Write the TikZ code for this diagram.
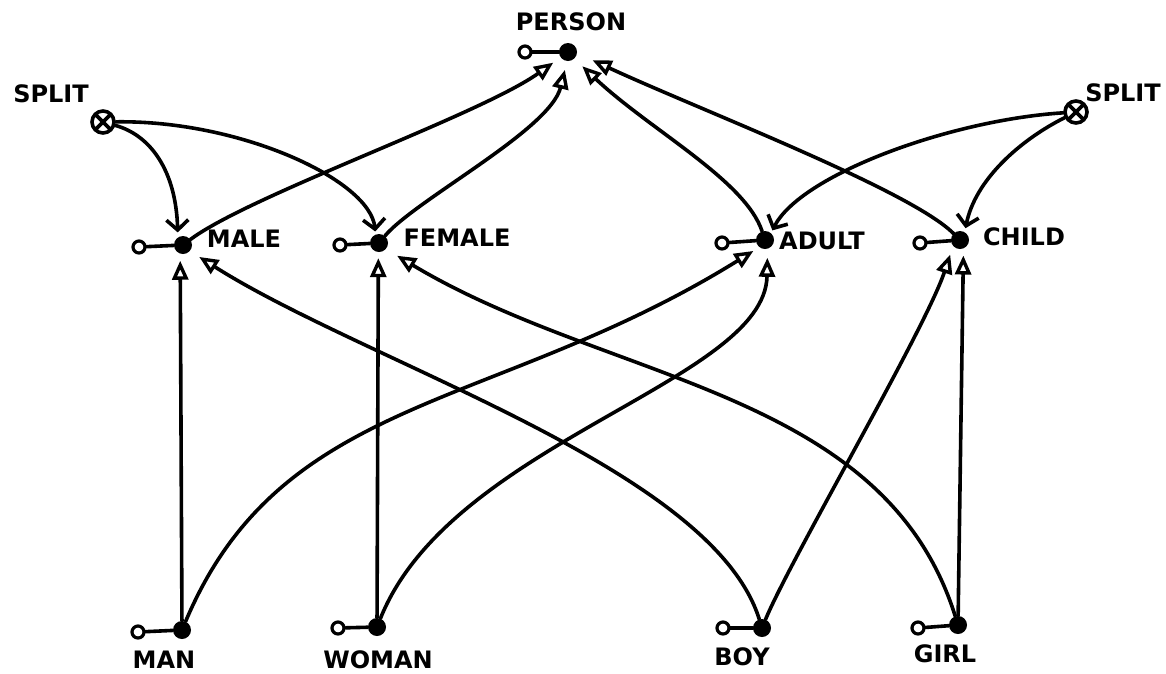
\documentclass[tikz,border=0pt]{standalone}
\usepackage{fontspec}
\setmainfont{DejaVu Sans}
\usetikzlibrary{arrows.meta}
\begin{document}
\begin{tikzpicture}[x=1pt,y=-1pt,
  dotn/.style={circle,fill=black,inner sep=0pt,minimum size=18pt},
  hole/.style={circle,draw=black,line width=3.2pt,fill=white,inner sep=0pt,minimum size=12pt},
  splitn/.style={circle,draw=black,line width=3.6pt,inner sep=0pt,minimum size=22pt,
    path picture={\draw[line width=3.6pt] (path picture bounding box.north west)--(path picture bounding box.south east)
      (path picture bounding box.north east)--(path picture bounding box.south west);}},
  lbl/.style={font=\bfseries\fontsize{24}{24}\selectfont, inner sep=0pt},
  ln/.style={line width=3.6pt, line cap=round},
  isa/.style={ln, -{Triangle[open,length=19pt,width=16pt,line width=3.4pt]}},
  spl/.style={ln, -{Straight Barb[length=10pt,width=22pt,line width=3.6pt]}},
]
\useasboundingbox (0,0) rectangle (1166,673);

% nodes
\node[dotn] (person) at (568,52) {};
\node[hole] (personh) at (525,52) {};
\node[lbl] (personl) at (571,22) {PERSON};

\node[splitn] (splitl) at (103,122) {};
\node[lbl] (splitll) at (51,94) {SPLIT};
\node[splitn] (splitr) at (1076,112) {};
\node[lbl] (splitrl) at (1123,93) {SPLIT};

\node[dotn] (male) at (183,245) {};
\node[hole] (maleh) at (139,247) {};
\node[lbl] (malel) at (244,239) {MALE};

\node[dotn] (female) at (379,243) {};
\node[hole] (femaleh) at (340,245) {};
\node[lbl] (femalel) at (457,238) {FEMALE};

\node[dotn] (adult) at (765,240) {};
\node[hole] (adulth) at (722,243) {};
\node[lbl] (adultl) at (822,241) {ADULT};

\node[dotn] (child) at (960,240) {};
\node[hole] (childh) at (920,243) {};
\node[lbl] (childl) at (1024,237) {CHILD};

\node[dotn] (man) at (182,630) {};
\node[hole] (manh) at (138,632) {};
\node[lbl] (manl) at (164,660) {MAN};

\node[dotn] (woman) at (377,627) {};
\node[hole] (womanh) at (338,628) {};
\node[lbl] (womanl) at (378,660) {WOMAN};

\node[dotn] (boy) at (762,628) {};
\node[hole] (boyh) at (723,628) {};
\node[lbl] (boyl) at (742,657) {BOY};

\node[dotn] (girl) at (958,625) {};
\node[hole] (girlh) at (918,628) {};
\node[lbl] (girll) at (945,654) {GIRL};

% stems
\foreach \a in {person,male,female,adult,child,man,woman,boy,girl}
  \draw[ln] (\a h) -- (\a);

% is-a connectors
\draw[isa, shorten >=7pt] (man) -- (male.-108);
\draw[isa, shorten >=6pt] (woman) -- (female.-94);
\draw[isa, shorten >=7pt] (girl) -- (child.-68);
\draw[isa, shorten >=7pt] (man) .. controls (282,393) and (494,412) .. (adult.-128);
\draw[isa, shorten >=9pt] (woman) .. controls (451,442) and (765,382) .. (adult.-74);
\draw[isa, shorten >=11pt] (boy) .. controls (712,468) and (368,364) .. (male.-41);
\draw[isa, shorten >=13pt] (girl) .. controls (884,389) and (609,383) .. (female.-41);
\draw[isa, shorten >=9pt] (boy) .. controls (790,560) and (925,330) .. (child.-139);
\draw[isa, shorten >=9pt] (male) .. controls (250,195) and (480,115) .. (person.-144);
\draw[isa, shorten >=9pt] (female) .. controls (415,200) and (550,130) .. (person.-96);
\draw[isa, shorten >=11pt] (adult) .. controls (745,180) and (650,130) .. (person.-47);
\draw[isa, shorten >=17pt] (child) .. controls (910,190) and (700,110) .. (person.-7);

% split connectors
\draw[spl, shorten >=5pt] (splitl) .. controls (150,135) and (176,170) .. (male.124);
\draw[spl, shorten >=3pt] (splitl) .. controls (240,120) and (370,180) .. (female.112);
\draw[spl, shorten >=3pt] (splitr) .. controls (950,120) and (800,175) .. (adult.49);
\draw[spl, shorten >=4pt] (splitr) .. controls (1020,140) and (975,180) .. (child.59);
\end{tikzpicture}
\end{document}
